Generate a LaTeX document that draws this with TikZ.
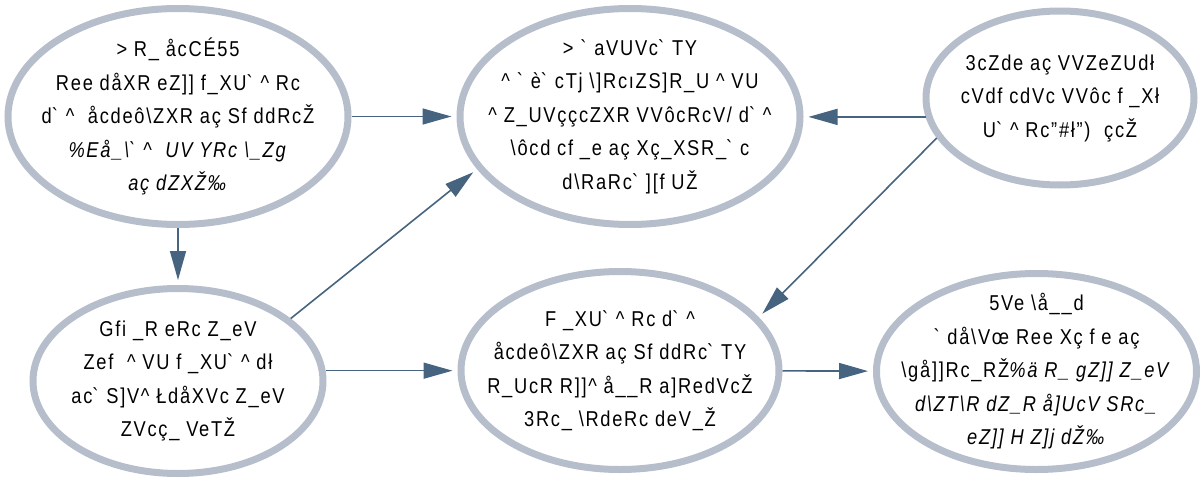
\documentclass[tikz,border=0pt]{standalone}
\usepackage{fontspec}
\setmainfont{Liberation Sans}[FakeStretch=0.85,LetterSpace=8]
\usetikzlibrary{arrows.meta,shapes.geometric}
\newcommand{\crc}{\textasciicircum{}}
\newcommand{\bsl}{\textbackslash{}}
\newcommand{\grv}{\textasciigrave{}}
\definecolor{ringgray}{HTML}{B6BECB}
\definecolor{edgeblue}{HTML}{46647F}
\begin{document}
\begin{tikzpicture}[x=1pt,y=-1pt,
        ring/.style={ellipse,draw=ringgray,line width=7pt,inner sep=0pt},
        txt/.style={align=center,font=\fontsize{21.5}{33.5}\selectfont},
        edge/.style={draw=edgeblue,line width=1.6pt,-{Triangle[length=29pt,width=16pt]},shorten >=5pt}]
            \useasboundingbox (0,0) rectangle (1200,479);

            \node[ring,minimum width=340pt,minimum height=216pt] (man) at (178,116.5) {};
            \node[ring,minimum width=340pt,minimum height=216pt] (mal) at (630,116.5) {};
            \node[ring,minimum width=268pt,minimum height=174pt] (stud) at (1060,98) {};
            \node[ring,minimum width=290pt,minimum height=185pt] (arb) at (178,381) {};
            \node[ring,minimum width=318pt,minimum height=198pt] (utb) at (620,370.5) {};
            \node[ring,minimum width=320pt,minimum height=196pt] (jobb) at (1036.5,371.5) {};

            \node[txt] (mantxt) at (man) {>\ R\_ åcCÉ55\\
                Ree dåXR eZ]] f\_XU\grv{} \crc{} Rc\\
                d\grv{} \crc{}\ \ åcdeô\bsl{}ZXR aç Sf ddRcŽ\\
                \textit{\%Eå\_\bsl{}\grv{} \crc{}\ \ UV YRc \bsl{}\_Zg}\\
                \textit{aç dZXŽ‰}};
            \node[txt] (maltxt) at (mal) {>\ \grv{} aVUVc\grv{} TY\\
                \crc{} \grv{} è\grv{} cTj \bsl{}]RcıZS]R\_U \crc{} VU\\
                \crc{} Z\_UVççcZXR VVôcRcV/ d\grv{} \crc{}\\
                \bsl{}ôcd cf \_e aç Xç\_XSR\_\grv{} c\\
                d\bsl{}RaRc\grv{} ][f UŽ};
            \node[txt] (studtxt) at (stud) {3cZde aç VVZeZUdł\\
                cVdf cdVc VVôc f \_Xł\\
                U\grv{} \crc{} Rc"\#ł")\ \ çcŽ};
            \node[txt] (arbtxt) at (arb) {Gfi \_R eRc Z\_eV\\
                Zef\ \ \crc{} VU f \_XU\grv{} \crc{} dł\\
                ac\grv{} S]V\crc{} ŁdåXVc Z\_eV\\
                ZVcç\_ VeTŽ};
            \node[txt] (utbtxt) at (utb) {F \_XU\grv{} \crc{} Rc d\grv{} \crc{}\\
                åcdeô\bsl{}ZXR aç Sf ddRc\grv{} TY\\
                R\_UcR R]]\crc{} å\_\_R a]RedVcŽ\\
                3Rc\_ \bsl{}RdeRc deV\_Ž};
            \node[txt] (jobbtxt) at (jobb) {5Ve \bsl{}å\_\_d\\
                \grv{} då\bsl{}Vœ Ree Xç f e aç\\
                \bsl{}gå]]Rc\_RŽ\textit{\%ä R\_ gZ]] Z\_eV}\\
                \textit{d\bsl{}ZT\bsl{}R dZ\_R å]UcV SRc\_}\\
                \textit{eZ]] H Z]j dŽ‰}};

            \draw[edge] (man) -- (mal);
            \draw[edge] (man) -- (arb);
            \draw[edge] (arb.29) -- (mal.199);
            \draw[edge] (stud.188) -- (stud.188 -| mal.east);
            \draw[edge] (stud.198) -- (utb.21);
            \draw[edge] (arb.4) -- (arb.4 -| utb.west);
            \draw[edge] (utb) -- (jobb);
        \end{tikzpicture}
\end{document}
